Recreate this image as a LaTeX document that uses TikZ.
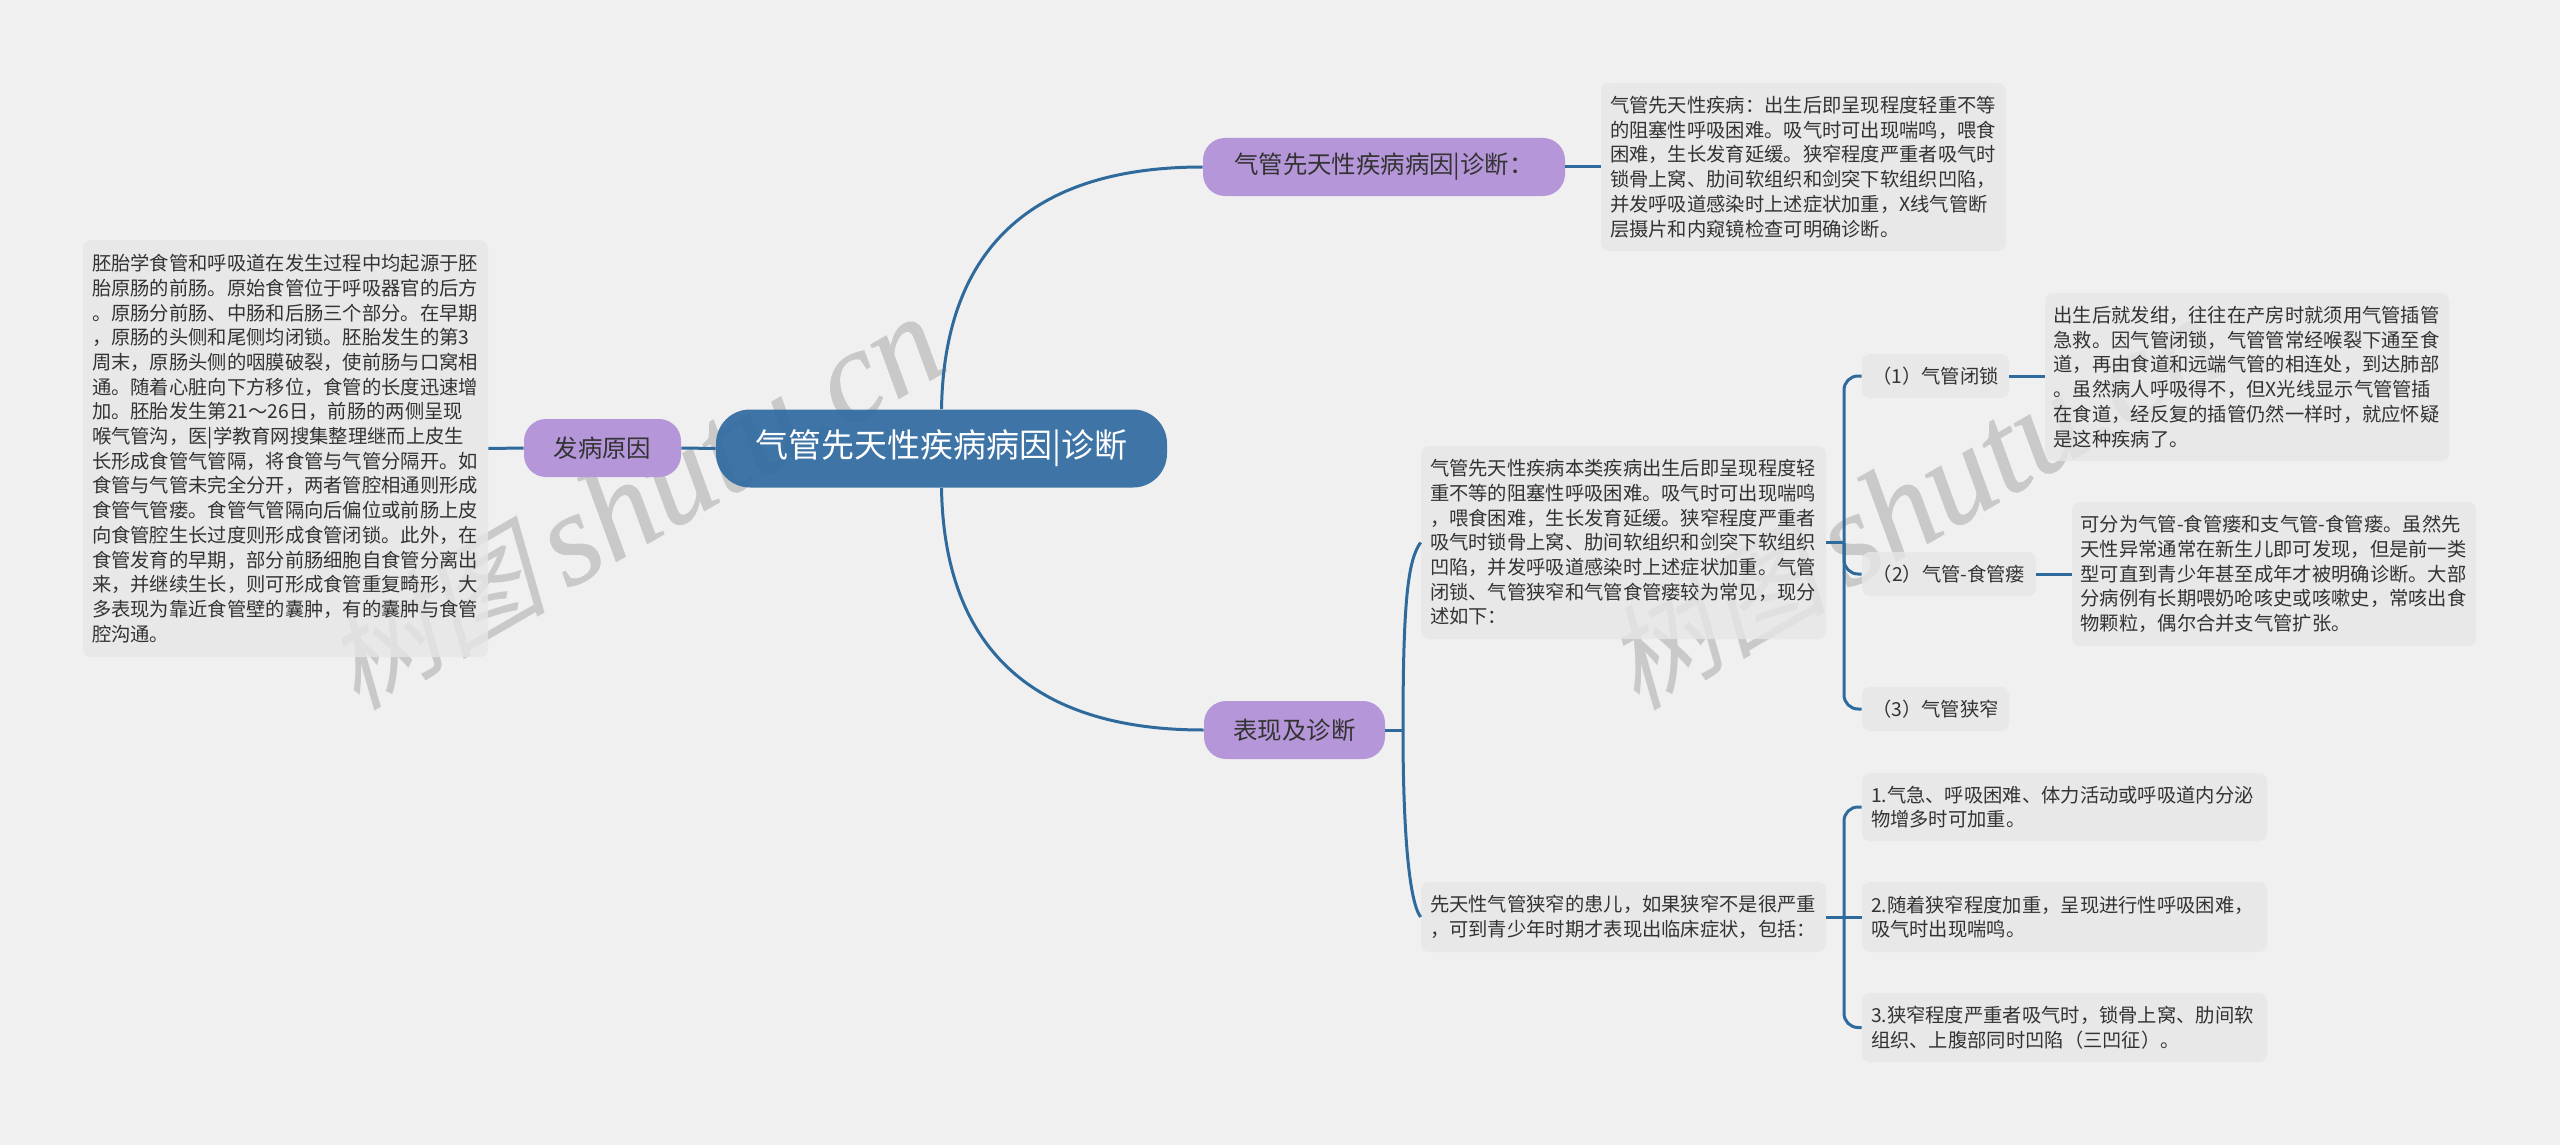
\documentclass[tikz,border=0pt]{standalone}
\usepackage{fontspec}
\setmainfont{Noto Sans CJK SC}
\newfontfamily\wmcjk[FakeSlant=0.25]{Noto Sans CJK SC}
\newfontfamily\wmlat[FakeBold=0.6]{Liberation Serif}
\definecolor{bgc}{HTML}{F0F0F0}
\definecolor{boxc}{HTML}{E6E6E6}
\definecolor{purp}{HTML}{B596D9}
\definecolor{rootc}{HTML}{2F6AA0}
\definecolor{linec}{HTML}{2E6A9C}
\definecolor{txt}{HTML}{333333}
\definecolor{wmc}{HTML}{C9C9C9}
\tikzset{
  sz/.style n args={2}{minimum width=#1*0.5pt,minimum height=#2*0.5pt},
  basebox/.style={inner sep=0pt,text=txt,fill opacity=.8,text opacity=1,fill=boxc,rounded corners=4pt,font=\fontsize{9.65}{12.35}\selectfont},
  longbox/.style={basebox,align=left,text width=193.5pt},
  shortbox/.style={basebox,align=center},
  branch/.style={inner sep=0pt,fill=purp,text=txt,rounded corners=11pt,font=\fontsize{12.2}{15}\selectfont,align=center},
  rootbox/.style={inner sep=0pt,fill=rootc,fill opacity=.92,text opacity=1,text=white,rounded corners=17pt,font=\fontsize{16.5}{20}\selectfont,align=center},
  conn/.style={draw=linec,line width=1.5pt},
  wmark/.style={text=wmc,rotate=30,anchor=base west,inner sep=0pt},
}
\newcommand{\wmtext}{{\wmcjk\fontsize{56}{56}\selectfont 树图}\hspace{10pt}{\wmlat\itshape\fontsize{66}{66}\selectfont shutu.cn}}
\begin{document}
\begin{tikzpicture}[x=0.5pt,y=-0.5pt]
\fill[bgc] (0,0) rectangle (2560,1145);
\useasboundingbox (0,0) rectangle (2560,1145);
% watermarks
\node[wmark] (wma) at (356,712) {\wmtext};
\node[wmark] (wmb) at (1636,712) {\wmtext};
% nodes
\node[rootbox,sz={451}{78}] (root) at (941.5,448.5) {气管先天性疾病病因|诊断};
\node[branch,sz={362}{58}] (bA) at (1384,167) {气管先天性疾病病因|诊断：};
\node[branch,sz={157}{58}] (bB) at (602.5,448) {发病原因};
\node[branch,sz={181}{58}] (bC) at (1294.5,730) {表现及诊断};
\node[longbox,sz={405}{168}] (tA) at (1803.5,167) {气管先天性疾病：出生后即呈现程度轻重不等\\的阻塞性呼吸困难。吸气时可出现喘鸣，喂食\\困难，生长发育延缓。狭窄程度严重者吸气时\\锁骨上窝、肋间软组织和剑突下软组织凹陷，\\并发呼吸道感染时上述症状加重，X线气管断\\层摄片和内窥镜检查可明确诊断。};
\node[longbox,sz={405}{417}] (tB) at (285.5,448.5) {胚胎学食管和呼吸道在发生过程中均起源于胚\\胎原肠的前肠。原始食管位于呼吸器官的后方\\。原肠分前肠、中肠和后肠三个部分。在早期\\，原肠的头侧和尾侧均闭锁。胚胎发生的第3\\周末，原肠头侧的咽膜破裂，使前肠与口窝相\\通。随着心脏向下方移位，食管的长度迅速增\\加。胚胎发生第21～26日，前肠的两侧呈现\\喉气管沟，医|学教育网搜集整理继而上皮生\\长形成食管气管隔，将食管与气管分隔开。如\\食管与气管未完全分开，两者管腔相通则形成\\食管气管瘘。食管气管隔向后偏位或前肠上皮\\向食管腔生长过度则形成食管闭锁。此外，在\\食管发育的早期，部分前肠细胞自食管分离出\\来，并继续生长，则可形成食管重复畸形，大\\多表现为靠近食管壁的囊肿，有的囊肿与食管\\腔沟通。};
\node[longbox,sz={405}{193}] (tC) at (1623.5,542.5) {气管先天性疾病本类疾病出生后即呈现程度轻\\重不等的阻塞性呼吸困难。吸气时可出现喘鸣\\，喂食困难，生长发育延缓。狭窄程度严重者\\吸气时锁骨上窝、肋间软组织和剑突下软组织\\凹陷，并发呼吸道感染时上述症状加重。气管\\闭锁、气管狭窄和气管食管瘘较为常见，现分\\述如下：};
\node[longbox,sz={405}{70}] (tD) at (1623.5,917) {先天性气管狭窄的患儿，如果狭窄不是很严重\\，可到青少年时期才表现出临床症状，包括：};
\node[shortbox,sz={147}{44}] (s1) at (1935.5,376) {（1）气管闭锁};
\node[shortbox,sz={174}{44}] (s2) at (1949,574) {（2）气管-食管瘘};
\node[shortbox,sz={147}{44}] (s3) at (1935.5,709) {（3）气管狭窄};
\node[longbox,sz={404}{168}] (l1) at (2247,377) {出生后就发绀，往往在产房时就须用气管插管\\急救。因气管闭锁，气管管常经喉裂下通至食\\道，再由食道和远端气管的相连处，到达肺部\\。虽然病人呼吸得不，但X光线显示气管管插\\在食道，经反复的插管仍然一样时，就应怀疑\\是这种疾病了。};
\node[longbox,sz={404}{144}] (l2) at (2274,574) {可分为气管-食管瘘和支气管-食管瘘。虽然先\\天性异常通常在新生儿即可发现，但是前一类\\型可直到青少年甚至成年才被明确诊断。大部\\分病例有长期喂奶呛咳史或咳嗽史，常咳出食\\物颗粒，偶尔合并支气管扩张。};
\node[longbox,sz={405}{68}] (r1) at (2064.5,807) {1.气急、呼吸困难、体力活动或呼吸道内分泌\\物增多时可加重。};
\node[longbox,sz={405}{70}] (r2) at (2064.5,917) {2.随着狭窄程度加重，呈现进行性呼吸困难，\\吸气时出现喘鸣。};
\node[longbox,sz={405}{69}] (r3) at (2064.5,1027.5) {3.狭窄程度严重者吸气时，锁骨上窝、肋间软\\组织、上腹部同时凹陷（三凹征）。};
% bus junctions
\coordinate (jC) at (1403,730);
\coordinate (jT) at (1844,542.5);
\coordinate (jD) at (1844,917);
% connectors
\draw[conn] (root.north) .. controls (944,260) and (1020,167) .. (bA.west);
\draw[conn] (root.south) .. controls (944,636) and (1020,730) .. (bC.west);
\draw[conn] (root.west) -- (bB.east);
\draw[conn] (bB.west) -- (tB.east);
\draw[conn] (bA.east) -- (tA.west);
\draw[conn] (bC.east) -- (jC);
\draw[conn] (jC) .. controls (1403,600) and (1408,560) .. (tC.west);
\draw[conn] (jC) .. controls (1403,820) and (1408,900) .. (tD.west);
\draw[conn] (tC.east) -- (jT);
\draw[conn] (tD.east) -- (jD);
\draw[conn,rounded corners=7pt] (jT) |- (s1.west);
\draw[conn,rounded corners=7pt] (jT) |- (s2.west);
\draw[conn,rounded corners=7pt] (jT) |- (s3.west);
\draw[conn,rounded corners=7pt] (jD) |- (r1.west);
\draw[conn] (jD) -- (r2.west);
\draw[conn,rounded corners=7pt] (jD) |- (r3.west);
\draw[conn] (s1.east) -- (l1.west |- s1.east);
\draw[conn] (s2.east) -- (l2.west);
\end{tikzpicture}
\end{document}
